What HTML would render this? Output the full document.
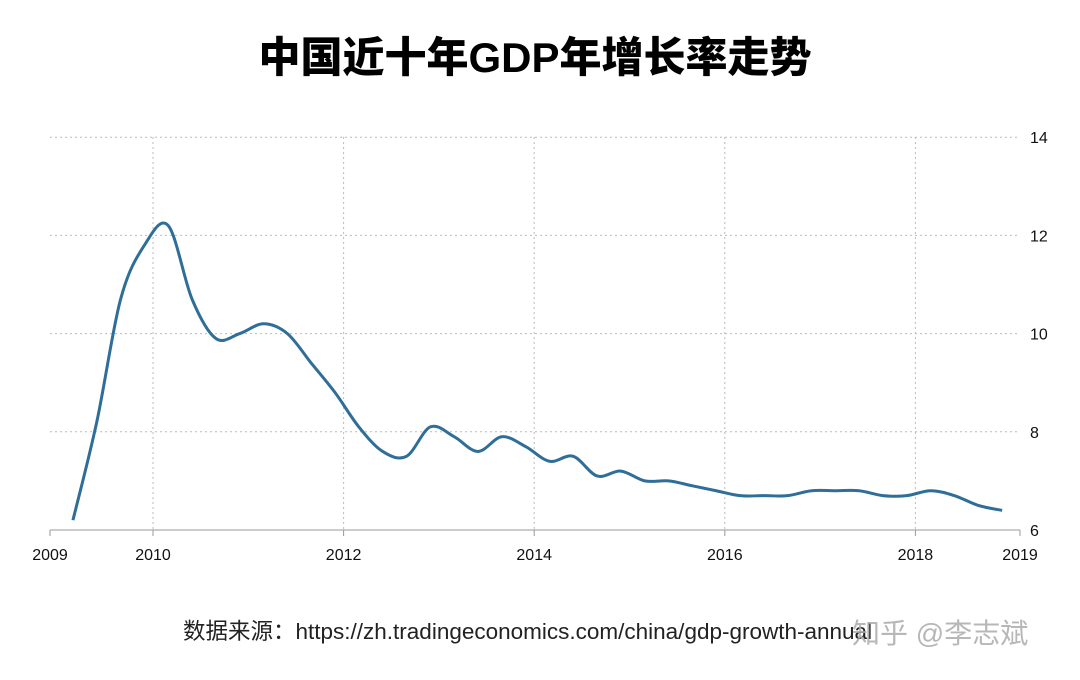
<!DOCTYPE html>
<html><head><meta charset="utf-8">
<style>
html,body{margin:0;padding:0;background:#fff;}
body{width:1080px;height:680px;position:relative;overflow:hidden;font-family:"Liberation Sans","Noto Sans CJK SC",sans-serif;}
#title{position:absolute;left:0;width:1070px;top:33px;text-align:center;font-size:42px;font-weight:900;color:#000;line-height:50px;}
#source{position:absolute;left:183px;top:614px;font-size:22.5px;color:#222;white-space:nowrap;}
#wm{position:absolute;left:852px;top:612px;font-size:28px;color:rgba(170,170,170,0.85);}
svg{position:absolute;left:0;top:0;}
</style></head><body>
<div id="title">中国近十年GDP年增长率走势</div>
<svg id="chart" width="1080" height="680"></svg>
<div id="source">数据来源：https://zh.tradingeconomics.com/china/gdp-growth-annual</div>
<div id="wm">知乎 @李志斌</div>
<script>
const years = [2009.16,2009.41,2009.66,2009.91,2010.16,2010.41,2010.66,2010.91,2011.16,2011.41,2011.66,2011.91,2012.16,2012.41,2012.66,2012.91,2013.16,2013.41,2013.66,2013.91,2014.16,2014.41,2014.66,2014.91,2015.16,2015.41,2015.66,2015.91,2016.16,2016.41,2016.66,2016.91,2017.16,2017.41,2017.66,2017.91,2018.16,2018.41,2018.66,2018.91];
const growth = [6.2,8.2,10.7,11.8,12.2,10.7,9.9,10.0,10.2,10.0,9.4,8.8,8.1,7.6,7.5,8.1,7.9,7.6,7.9,7.7,7.4,7.5,7.1,7.2,7.0,7.0,6.9,6.8,6.7,6.7,6.7,6.8,6.8,6.8,6.7,6.7,6.8,6.7,6.5,6.4];
const xTicks = [2009,2010,2012,2014,2016,2018,2019];
const yTicks = [6,8,10,12,14];
const NS="http://www.w3.org/2000/svg";
const svg=document.getElementById('chart');
const X=v=>57.7+(v-2009)*95.3;
const Y=v=>530-(v-6)*49.1;
function mk(t,a){const e=document.createElementNS(NS,t);for(const k in a)e.setAttribute(k,a[k]);svg.appendChild(e);return e;}
yTicks.forEach(t=>{
  const l=mk('line',{x1:50,x2:1020,y1:Y(t),y2:Y(t),stroke:t===6?'#999':'#bbb','stroke-width':1,'stroke-dasharray':t===6?'':'2,3'});
  
  
  const tx=mk('text',{x:1030,y:Y(t)+6,'font-size':16,fill:'#111'});tx.textContent=t;
  
  
});
xTicks.forEach(t=>{
  const x = t===2009?50:(t===2019?1020:X(t));
  if(t!==2009&&t!==2019){const g=mk('line',{x1:x,x2:x,y1:137,y2:530,stroke:'#bbb','stroke-width':1,'stroke-dasharray':'2,3'});
  
  }
  const tk=mk('line',{x1:x,x2:x,y1:530,y2:536,stroke:'#999'});
  
  
  const tx=mk('text',{x:x,y:560,'font-size':16,fill:'#111','text-anchor':'middle'});tx.textContent=t;
  
  
});
const pts=years.map((y,i)=>[X(y),Y(growth[i])]);
let d=`M${pts[0][0]},${pts[0][1]}`;
for(let i=0;i<pts.length-1;i++){
  const p0=pts[i-1]||pts[i],p1=pts[i],p2=pts[i+1],p3=pts[i+2]||p2;
  const c1=[p1[0]+(p2[0]-p0[0])/6,p1[1]+(p2[1]-p0[1])/6];
  const c2=[p2[0]-(p3[0]-p1[0])/6,p2[1]-(p3[1]-p1[1])/6];
  d+=` C${c1[0]},${c1[1]} ${c2[0]},${c2[1]} ${p2[0]},${p2[1]}`;
}
const line=mk('path',{d:d,fill:'none',stroke:'#2e6e98','stroke-width':3,'stroke-linejoin':'round'});


</script>
</body></html>
